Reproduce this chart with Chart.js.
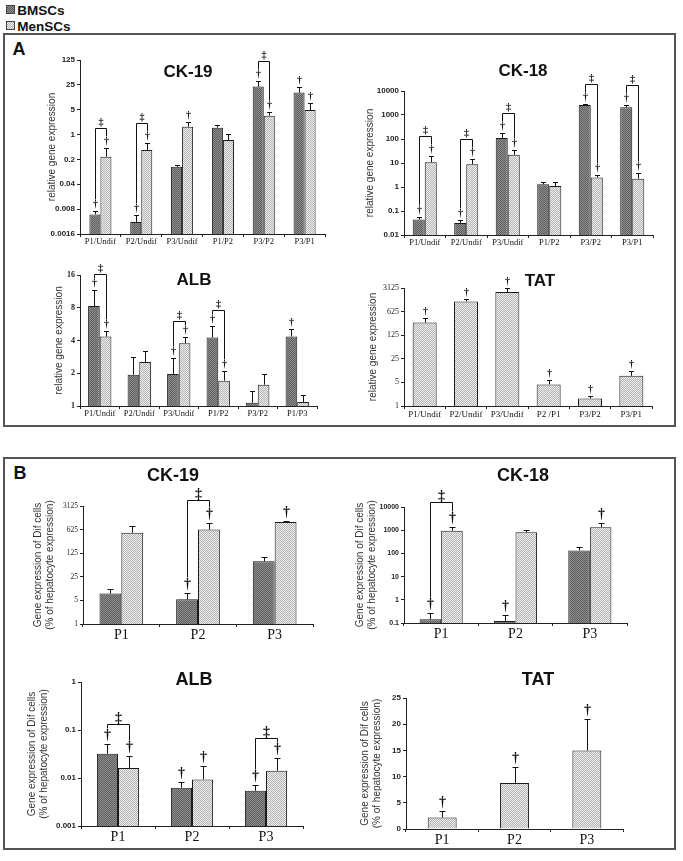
<!DOCTYPE html>
<html>
<head>
<meta charset="utf-8">
<script src="https://cdn.jsdelivr.net/npm/chart.js@4.4.1/dist/chart.umd.min.js"></script>
<style>
  body { margin: 0; background: #fff; width: 683px; height: 861px; position: relative; overflow: hidden; font-family: "Liberation Sans", Arial, sans-serif; }
  .box { position: absolute; border: 2px solid #555; box-sizing: border-box; }
  .lbl { position: absolute; font-weight: bold; color: #111; white-space: nowrap; transform: translate(-50%, -50%); }
  .sw { position: absolute; width: 9px; height: 9px; border: 1px solid #444; box-sizing: border-box; }
  canvas { position: absolute; }
</style>
</head>
<body>

<div class="sw" style="left:6px;top:5px;background:repeating-conic-gradient(#5f5f5f 0 25%, #8e8e8e 0 50%) 0 0/2px 2px;"></div>
<div class="lbl" style="left:41px;top:10px;font-size:13.5px;">BMSCs</div>
<div class="sw" style="left:6px;top:21px;background:repeating-conic-gradient(#f0f0f0 0 25%, #b2b2b2 0 50%) 0 0/2px 2px;"></div>
<div class="lbl" style="left:44px;top:26px;font-size:13.5px;">MenSCs</div>

<div class="box" style="left:3px;top:33px;width:673px;height:394px;"></div>
<div class="box" style="left:3px;top:457px;width:673px;height:393px;"></div>
<div class="lbl" style="left:19px;top:49px;font-size:18px;">A</div>
<div class="lbl" style="left:20px;top:473px;font-size:18px;">B</div>

<div id="charts"></div>

<div class="lbl" style="left:188px;top:72px;font-size:17px;">CK-19</div>
<div class="lbl" style="left:523px;top:71px;font-size:17px;">CK-18</div>
<div class="lbl" style="left:194px;top:280px;font-size:17px;">ALB</div>
<div class="lbl" style="left:540px;top:281px;font-size:17px;">TAT</div>
<div class="lbl" style="left:173px;top:475px;font-size:18px;">CK-19</div>
<div class="lbl" style="left:523px;top:475px;font-size:18px;">CK-18</div>
<div class="lbl" style="left:194px;top:679px;font-size:18px;">ALB</div>
<div class="lbl" style="left:538px;top:679px;font-size:18px;">TAT</div>

<script>
// ---- panel A : CK-19
var catsA1 = ['P1/Undif', 'P2/Undif', 'P3/Undif', 'P1/P2', 'P3/P2', 'P3/P1'];
var bmA1 = [0.0057, 0.0035, 0.125, 1.56, 22.3, 15.2];
var bmErrA1 = [0.0073, 0.0054, 0.143, 1.85, 32.9, 21.3];
var menA1 = [0.239, 0.369, 1.67, 0.705, 3.4, 4.9];
var menErrA1 = [0.427, 0.57, 2.27, 1.03, 4.4, 7.9];
var bmSigA1 = ['†', '†', '', '', '†', '†'];
var menSigA1 = ['†', '†', '†', '', '†', '†'];
var brA1 = [1, 1, 0, 0, 1, 0];
var ticksA1 = [0.0016, 0.008, 0.04, 0.2, 1, 5, 25, 125];

// ---- panel A : CK-18
var catsA2 = ['P1/Undif', 'P2/Undif', 'P3/Undif', 'P1/P2', 'P3/P2', 'P3/P1'];
var bmA2 = [0.044, 0.032, 110, 1.29, 2600, 2100];
var bmErrA2 = [0.055, 0.041, 173, 1.66, 3000, 2500];
var menA2 = [10.7, 8.9, 22, 1.1, 2.5, 2.23];
var menErrA2 = [19.5, 14, 35, 1.6, 3.25, 3.7];
var bmSigA2 = ['†', '†', '†', '', '†', '†'];
var menSigA2 = ['†', '†', '†', '', '†', '†'];
var brA2 = [1, 1, 1, 0, 1, 1];
var ticksA2 = [0.01, 0.1, 1, 10, 100, 1000, 10000];

// ---- panel A : ALB
var catsA3 = ['P1/Undif', 'P2/Undif', 'P3/Undif', 'P1/P2', 'P3/P2', 'P1/P3'];
var bmA3 = [8.3, 1.94, 1.97, 4.26, 1.07, 4.35];
var bmErrA3 = [11.7, 2.8, 2.77, 5.38, 1.38, 5.1];
var menA3 = [4.35, 2.54, 3.78, 1.71, 1.57, 1.09];
var menErrA3 = [4.9, 3.19, 4.35, 2.11, 1.97, 1.27];
var bmSigA3 = ['†', '', '†', '†', '', '†'];
var menSigA3 = ['†', '', '†', '†', '', ''];
var brA3 = [1, 0, 1, 1, 0, 0];
var ticksA3 = [1, 2, 4, 8, 16];

// ---- panel A : TAT (MenSCs only)
var catsA4 = ['P1/Undif', 'P2/Undif', 'P3/Undif', 'P2 /P1', 'P3/P2', 'P3/P1'];
var menA4 = [298, 1250, 2380, 4.36, 1.67, 7.85];
var menErrA4 = [405, 1450, 3125, 6.0, 1.93, 10.8];
var menSigA4 = ['†', '†', '†', '†', '†', '†'];
var ticksA4 = [1, 5, 25, 125, 625, 3125];

// ---- panel B
var catsB = ['P1', 'P2', 'P3'];

var bmB1 = [7.96, 5.4, 72];
var bmErrB1 = [11.2, 8.5, 99];
var menB1 = [507, 625, 1050];
var menErrB1 = [822, 965, 1100];
var bmSigB1 = ['', '†', ''];
var menSigB1 = ['', '†', '†'];
var brB1 = [0, 1, 0];
var ticksB1 = [1, 5, 25, 125, 625, 3125];

var bmB2 = [0.145, 0.122, 135];
var bmErrB2 = [0.26, 0.22, 182];
var menB2 = [940, 820, 1350];
var menErrB2 = [1400, 1070, 1950];
var bmSigB2 = ['†', '†', ''];
var menSigB2 = ['†', '', '†'];
var brB2 = [1, 0, 0];
var ticksB2 = [0.1, 1, 10, 100, 1000, 10000];

var bmB3 = [0.032, 0.0063, 0.0054];
var bmErrB3 = [0.051, 0.0083, 0.0072];
var menB3 = [0.0162, 0.0093, 0.0142];
var menErrB3 = [0.029, 0.0174, 0.0265];
var bmSigB3 = ['†', '†', '†'];
var menSigB3 = ['†', '†', '†'];
var brB3 = [1, 0, 1];
var ticksB3 = [0.001, 0.01, 0.1, 1];

var menB4 = [2.2, 8.8, 15.0];
var menErrB4 = [3.5, 11.9, 21.0];
var menSigB4 = ['†', '†', '†'];
var ticksB4 = [0, 5, 10, 15, 20, 25];

var titleA = 'relative gene expression';
var titleB = ['Gene expression of Dif cells', '(% of hepatocyte expression)'];

function makePattern(a, b) {
  var c = document.createElement('canvas');
  c.width = 2; c.height = 2;
  var g = c.getContext('2d');
  g.fillStyle = a; g.fillRect(0, 0, 2, 2);
  g.fillStyle = b; g.fillRect(0, 0, 1, 1); g.fillRect(1, 1, 1, 1);
  return g.createPattern(c, 'repeat');
}
var patBm = makePattern('#5f5f5f', '#8e8e8e');
var patMen = makePattern('#f0f0f0', '#b2b2b2');

// error bars, daggers and brackets
var marksPlugin = {
  id: 'marks',
  afterDatasetsDraw: function (chart, args, opts) {
    var ctx = chart.ctx, ys = chart.scales.y;
    ctx.save();
    ctx.strokeStyle = '#111';
    ctx.fillStyle = '#111';
    ctx.lineWidth = 1;
    ctx.font = 'bold ' + opts.sigSize + 'px "Liberation Serif"';
    ctx.textAlign = 'center';
    ctx.textBaseline = 'middle';
    var tops = chart.data.datasets.map(function (ds, d) {
      return chart.getDatasetMeta(d).data.map(function (bar, i) {
        var x = Math.round(bar.x) + 0.5;
        var ye = Math.round(ys.getPixelForValue(ds.err[i])) + 0.5;
        ctx.beginPath();
        ctx.moveTo(x, bar.y); ctx.lineTo(x, ye);
        ctx.moveTo(x - opts.cap, ye); ctx.lineTo(x + opts.cap, ye);
        ctx.stroke();
        if (ds.sig[i]) ctx.fillText(ds.sig[i], x, ye - opts.sigGap);
        return { x: x, top: ye };
      });
    });
    (opts.brackets || []).forEach(function (b, i) {
      if (!b) return;
      var l = tops[0][i], r = tops[1][i];
      var t = Math.round(Math.min(l.top, r.top) - opts.brGap) + 0.5;
      ctx.beginPath();
      ctx.moveTo(l.x, l.top - opts.legGap); ctx.lineTo(l.x, t);
      ctx.lineTo(r.x, t); ctx.lineTo(r.x, r.top - opts.legGap);
      ctx.stroke();
      ctx.fillText('‡', (l.x + r.x) / 2, t - 6);
    });
    ctx.restore();
  }
};

function makeChart(g, cats, sets, yType, yTicks, yFont, xFont, yTitle, pct, marks) {
  var padTop = 30, padRight = 4;
  var left = Math.round(g.tx - 6);
  var top = Math.round(g.t) - padTop;
  var w = Math.round(g.r) + padRight - left;
  var h = Math.round(g.b) - top + g.xh;
  var cv = document.createElement('canvas');
  cv.width = w; cv.height = h;
  cv.style.left = left + 'px'; cv.style.top = top + 'px';
  cv.style.width = w + 'px'; cv.style.height = h + 'px';
  document.getElementById('charts').appendChild(cv);

  var datasets = sets.map(function (s) {
    return {
      data: s.data, err: s.err, sig: s.sig,
      backgroundColor: s.men ? patMen : patBm,
      borderColor: '#1a1a1a', borderWidth: 1,
      categoryPercentage: pct, barPercentage: 1
    };
  });

  var yScale = {
    type: yType,
    min: yTicks[0], max: yTicks[yTicks.length - 1],
    afterBuildTicks: function (s) { s.ticks = yTicks.map(function (v) { return { value: v }; }); },
    afterFit: function (s) { s.width = Math.round(g.l) - left; },
    ticks: { font: yFont, color: '#222', padding: 2, autoSkip: false, callback: function (v) { return String(v); } },
    grid: { drawOnChartArea: false, tickLength: 3, color: '#222' },
    border: { color: '#222' },
    title: { display: true, text: yTitle, font: { family: 'Liberation Sans', size: 10 }, color: '#333', padding: 0 }
  };

  return new Chart(cv, {
    type: 'bar',
    data: { labels: cats, datasets: datasets },
    options: {
      responsive: false,
      animation: false,
      layout: { padding: { top: padTop, right: padRight, left: 0, bottom: 0 } },
      scales: {
        x: {
          afterFit: function (s) { s.height = g.xh; },
          ticks: { font: xFont, color: '#111', padding: 0, maxRotation: 0, autoSkip: false },
          grid: { drawOnChartArea: false, tickLength: 3, color: '#222', offset: true },
          border: { color: '#222' }
        },
        y: yScale
      },
      plugins: { legend: { display: false }, title: { display: false }, tooltip: { enabled: false }, marks: marks }
    },
    plugins: [marksPlugin]
  });
}

var sansB8 = { family: 'Liberation Sans', size: 8, weight: 'bold' };
var serifA = { family: 'Liberation Serif', size: 8.5 };
var serifB = { family: 'Liberation Serif', size: 14 };
var mkA = function (br, gap) { return { sigSize: 10, sigGap: 7, cap: 2.5, brackets: br, brGap: gap, legGap: 12 }; };
var mkB = function (br, gap) { return { sigSize: 14, sigGap: 9, cap: 3, brackets: br, brGap: gap, legGap: 16 }; };

makeChart({ l: 80, r: 325, t: 60, b: 234, tx: 52, xh: 16 }, catsA1,
  [{ data: bmA1, err: bmErrA1, sig: bmSigA1 }, { data: menA1, err: menErrA1, sig: menSigA1, men: true }],
  'logarithmic', ticksA1, sansB8, serifA, titleA, 0.54, mkA(brA1, 21));

makeChart({ l: 404, r: 653, t: 91, b: 235, tx: 370, xh: 16 }, catsA2,
  [{ data: bmA2, err: bmErrA2, sig: bmSigA2 }, { data: menA2, err: menErrA2, sig: menSigA2, men: true }],
  'logarithmic', ticksA2, sansB8, serifA, titleA, 0.58, mkA(brA2, 21));

makeChart({ l: 80, r: 317, t: 275, b: 406, tx: 59, xh: 16 }, catsA3,
  [{ data: bmA3, err: bmErrA3, sig: bmSigA3 }, { data: menA3, err: menErrA3, sig: menSigA3, men: true }],
  'logarithmic', ticksA3, { family: 'Liberation Serif', size: 8, weight: 'bold' }, serifA, titleA, 0.59, mkA(brA3, 17));

makeChart({ l: 404, r: 652, t: 288, b: 406, tx: 373, xh: 16 }, catsA4,
  [{ data: menA4, err: menErrA4, sig: menSigA4, men: true }],
  'logarithmic', ticksA4, { family: 'Liberation Serif', size: 8 }, { family: 'Liberation Serif', size: 9 }, titleA, 0.58, mkA([], 0));

makeChart({ l: 83, r: 313, t: 506, b: 624, tx: 38, xh: 22 }, catsB,
  [{ data: bmB1, err: bmErrB1, sig: bmSigB1 }, { data: menB1, err: menErrB1, sig: menSigB1, men: true }],
  'logarithmic', ticksB1, { family: 'Liberation Serif', size: 7.5 }, serifB, titleB, 0.57, mkB(brB1, 24));

makeChart({ l: 404, r: 627, t: 507, b: 623, tx: 360, xh: 22 }, catsB,
  [{ data: bmB2, err: bmErrB2, sig: bmSigB2 }, { data: menB2, err: menErrB2, sig: menSigB2, men: true }],
  'logarithmic', ticksB2, { family: 'Liberation Sans', size: 7, weight: 'bold' }, serifB, titleB, 0.58, mkB(brB2, 26));

makeChart({ l: 81, r: 303, t: 682, b: 826, tx: 32, xh: 22 }, catsB,
  [{ data: bmB3, err: bmErrB3, sig: bmSigB3 }, { data: menB3, err: menErrB3, sig: menSigB3, men: true }],
  'logarithmic', ticksB3, sansB8, serifB, titleB, 0.57, mkB(brB3, 21));

makeChart({ l: 406, r: 623, t: 698, b: 829, tx: 365, xh: 22 }, catsB,
  [{ data: menB4, err: menErrB4, sig: menSigB4, men: true }],
  'linear', ticksB4, sansB8, serifB, titleB, 0.40, mkB([], 0));
</script>
</body>
</html>
